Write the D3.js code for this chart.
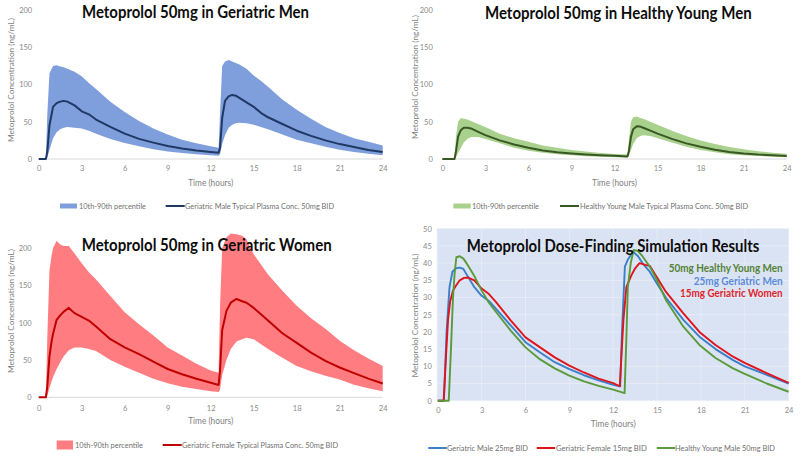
<!DOCTYPE html>
<html><head><meta charset="utf-8">
<script src="https://cdnjs.cloudflare.com/ajax/libs/d3/7.8.5/d3.min.js"></script>
<style>body{margin:0;background:#fff}svg{display:block}</style>
</head><body>
<script>
// ---------- tick labels ----------
const xTicks = [0, 3, 6, 9, 12, 15, 18, 21, 24];
const yTicksConc = [0, 50, 100, 150, 200];
const yTicksSim = [0, 5, 10, 15, 20, 25, 30, 35, 40, 45, 50];

// ---------- Panel 1: Geriatric Men 50mg ----------
const gmTime  = [0,0.5,0.6,0.75,1.0,1.25,1.5,1.75,2.0,2.5,3,3.5,4,5,6,7,8,9,10,11,12,12.55,12.65,12.8,13.0,13.25,13.5,13.75,14,14.5,15,15.5,16,17,18,19,20,21,22,23,24];
const gmMed   = [0,0,10,45,70,75,77,78,77,72,64,60,53,43,34,27,22,17.5,14,11.5,9.5,8.5,15,55,78,84,86,85,82,76,70,62,56,47,38,31,25,20,16,12,9.5];
const gmUpper = [0,0,60,115,125,126,124,123,121,117,111,102,94,77,63,51,41,33,26,21,17,15,60,125,131,133,131,129,127,121,112,105,97,80,66,54,43,35,28,23,18];
const gmLower = [0,0,2,12,28,36,40,42,43,42,41,38,34,27,21.5,17,13,10,8,6.5,5,4.5,6,20,32,42,46,48,48.5,48,46,43,40,33,26,21,16.5,12.5,9.5,7,5];

// ---------- Panel 2: Healthy Young Men 50mg ----------
const hyTime  = [0,0.85,0.95,1.1,1.3,1.5,1.75,2.0,2.5,3,4,5,6,7,8,9,10,11,12,12.9,13.0,13.15,13.3,13.55,13.8,14,14.5,15,16,17,18,19,20,21,22,23,24];
const hyMed   = [0,0,10,30,39,42,42,41,36.5,32,25,19.5,15,11.5,9,7.3,6,5,4.2,3.5,10,30,40,44,43.5,42,38,34,27,21,16.5,12.5,9.5,7.5,6,5,4];
const hyUpper = [0,0,30,50,55,54,53,51,47,43,34,28,23,18,15,12,10,8,6.8,6,25,50,56,57,55,54,50,46,38,31,25,20,16,13,10.5,8.5,7];
const hyLower = [0,0,2,8,15,22,27,29.5,29.5,27,21,15,11,8.5,6.5,5,3.8,3,2.5,2,4,12,20,28,31,32,31,28,22,16.5,12,9,6.5,5,4,3,2.5];

// ---------- Panel 3: Geriatric Women 50mg ----------
const gfTime  = [0,0.5,0.6,0.75,0.9,1.0,1.25,1.5,1.75,2.1,2.5,3,3.5,4,5,6,7,8,9,10,11,12,12.55,12.65,12.8,13.1,13.4,13.8,14.2,14.5,15,16,17,18,19,20,21,22,23,24];
const gfMed   = [0,0,15,55,75,85,104,110,115,120,113,108,103,95,78,67,58,48,38,31,25,19.5,16.5,35,90,116,127,132,129,127,120,103,86,73,60,49,40,32.5,25,18.5];
const gfUpper = [0,0,80,170,190,200,210,205,203,203,193,180,168,158,136,114,98,83,67,56,45,36,33,120,200,215,220,219,217,212,192,165,143,123,106,92,76,63,52,42];
const gfLower = [0,0,2,12,22,27,38,47,55,63,67,67,65,62,50,41,33,25,19,14,11,8,7,10,30,50,65,75,78,80,78,65,53,42,35,29,24,17,12,8];

// ---------- Panel 4: Dose-finding simulation ----------
const gm25Time = [0,0.42,0.6,0.8,1.0,1.25,1.5,1.75,2.0,2.5,3,3.5,4,5,6,7,8,9,10,11,12,12.48,12.6,12.8,13.0,13.35,13.7,14,14.5,15,15.6,16.8,17.9,19,20.2,21,22.5,24];
const gm25Val  = [0,0,20,33,37.5,38.5,38.7,38.3,36.5,33,30.5,29,26.6,21.8,17,14,11.2,9.2,7.4,5.9,4.6,4.2,20,39,41,43.3,42,40,37.5,34,30,23.5,18.6,15,11.8,10,7.5,5];
const gf15Time = [0,0.4,0.55,0.7,0.85,1.04,1.25,1.5,1.8,2.07,2.5,3,3.5,4,5,6,7,8,9,10,11,12,12.45,12.55,12.7,12.9,13.25,13.5,13.8,14.2,14.5,15,15.6,16.8,17.9,19,20.2,21,22.5,24];
const gf15Val  = [0,0,12,23.5,29,32,33.5,35,35.7,35.8,35,32.6,31,28.6,23.3,18.4,15.5,12.6,10.2,8.2,6.4,5.1,4.2,12,23.4,33,36.5,38.5,40,39.5,39.2,35.8,31.7,25.4,20,16.2,12.8,11,8,5.2];
const hy50Time = [0,0.75,0.9,1.04,1.15,1.27,1.5,1.75,1.96,2.25,2.53,3,3.5,4,5,6,7,8,9,10,11,12,12.78,12.9,13.0,13.2,13.4,13.7,14,14.5,15,15.6,16.8,17.9,19,20.2,21,22.5,24];
const hy50Val  = [0,0,15,30,37,41.7,42,41.3,40,38,36,32,28.5,25.7,20.3,15.5,12,9.4,7.3,5.6,4.3,3.2,2.2,18,33,40,43.8,43.5,42,39,35,29.3,21.5,16.2,12.4,9.4,7.8,5,2.6];

// ---------- helpers ----------
const FONT = "Lato, 'Open Sans', sans-serif";
const svg = d3.select("body").append("svg").attr("width", 800).attr("height", 458);

function text(g, str, x, y, o) {
  const t = g.append("text").attr("x", x).attr("y", y).text(str)
    .attr("font-family", FONT).attr("font-size", o.size)
    .attr("font-weight", o.weight || "normal").attr("fill", o.fill || "#7f7f7f")
    .attr("text-anchor", o.anchor || "start");
  if (o.dy) t.attr("dy", o.dy);
  if (o.width) t.attr("textLength", o.width).attr("lengthAdjust", "spacingAndGlyphs");
  return t;
}

function zip(ts, a, b, c) { return ts.map((t, i) => ({t, a: a[i], b: b ? b[i] : null, c: c ? c[i] : null})); }

function axes(g, x, y, yTicks, o) {
  const gx = g.append("g").attr("transform", `translate(0,${y.range()[0]})`)
    .call(d3.axisBottom(x).tickValues(xTicks).tickSize(0).tickPadding(o.xPad));
  gx.select(".domain").remove();
  gx.attr("font-family", FONT).attr("font-size", 7.5).selectAll("text").attr("fill", "#8a8a8a");
  const gy = g.append("g").attr("transform", `translate(${x.range()[0]},0)`)
    .call(d3.axisLeft(y).tickValues(yTicks).tickSize(0).tickPadding(o.yPad));
  gy.select(".domain").remove();
  gy.attr("font-family", FONT).attr("font-size", 7.5).selectAll("text").attr("fill", "#8a8a8a");
}

function titles(g, x, y, o) {
  const cx = (x.range()[0] + x.range()[1]) / 2;
  text(g, "Time (hours)", cx, o.xtY, {size: 8.5, anchor: "middle", width: 45, fill: "#7f7f7f"});
  text(g, "Metoprolol Concentration (ng/mL)", 0, 0, {size: 7.5, anchor: "middle", width: 124, dy: "0.35em", fill: "#7f7f7f"})
    .attr("transform", `translate(${o.ytX},${o.ytY}) rotate(-90)`);
  text(g, o.title, o.titleX, o.titleY, {size: 16.5, weight: "bold", anchor: "middle", width: o.titleW, fill: "#0d0d0d"});
}

function bandPanel(o) {
  const g = svg.append("g");
  const x = d3.scaleLinear().domain([0, 24]).range(o.xr);
  const y = d3.scaleLinear().domain([0, 200]).range(o.yr);
  const data = zip(o.time, o.med, o.upper, o.lower);
  g.append("line").attr("x1", x(0)).attr("x2", x(24)).attr("y1", y(0)).attr("y2", y(0))
    .attr("stroke", "#d9d9d9").attr("stroke-width", 1);
  g.append("path").datum(data)
    .attr("d", d3.area().x(d => x(d.t)).y0(d => y(d.c)).y1(d => y(d.b)))
    .attr("fill", o.bandColor);
  g.append("path").datum(data)
    .attr("d", d3.line().x(d => x(d.t)).y(d => y(d.a)))
    .attr("fill", "none").attr("stroke", o.lineColor).attr("stroke-width", 2).attr("stroke-linejoin", "round");
  axes(g, x, y, yTicksConc, o);
  titles(g, x, y, o);
  // legend
  const L = o.leg;
  g.append("rect").attr("x", L.sx).attr("y", L.y - L.sh / 2).attr("width", L.sw).attr("height", L.sh).attr("fill", o.bandColor);
  text(g, "10th-90th percentile", L.t1x, L.y, {size: 7.5, dy: "0.35em", width: L.t1w, fill: "#6f6f6f"});
  g.append("line").attr("x1", L.lx).attr("x2", L.lx + 19).attr("y1", L.y).attr("y2", L.y)
    .attr("stroke", o.lineColor).attr("stroke-width", 2);
  text(g, o.legLabel, L.t2x, L.y, {size: 7.5, dy: "0.35em", width: L.t2w, fill: "#6f6f6f"});
}

bandPanel({
  xr: [38.7, 382.7], yr: [159, 10], time: gmTime, med: gmMed, upper: gmUpper, lower: gmLower,
  bandColor: "#7f9fdc", lineColor: "#1f3864", xPad: 7, yPad: 6.5,
  xtY: 186, ytX: 11, ytY: 80, title: "Metoprolol 50mg in Geriatric Men", titleX: 195.5, titleY: 18, titleW: 227,
  legLabel: "Geriatric Male Typical Plasma Conc. 50mg BID",
  leg: {y: 206, sx: 60, sw: 17, sh: 5, t1x: 79, t1w: 67, lx: 165.7, t2x: 185, t2w: 149}
});
bandPanel({
  xr: [442.3, 786.7], yr: [159, 10], time: hyTime, med: hyMed, upper: hyUpper, lower: hyLower,
  bandColor: "#a9d18e", lineColor: "#385723", xPad: 7, yPad: 9.5,
  xtY: 185.7, ytX: 415, ytY: 77, title: "Metoprolol 50mg in Healthy Young Men", titleX: 618.3, titleY: 18.5, titleW: 266.7,
  legLabel: "Healthy Young Male Typical Plasma Conc. 50mg BID",
  leg: {y: 206, sx: 453.3, sw: 17.4, sh: 5, t1x: 472, t1w: 67, lx: 560, t2x: 580, t2w: 168}
});
bandPanel({
  xr: [38.7, 382.7], yr: [397.3, 248.3], time: gfTime, med: gfMed, upper: gfUpper, lower: gfLower,
  bandColor: "#ff7c80", lineColor: "#c00000", xPad: 8, yPad: 7,
  xtY: 424.3, ytX: 11, ytY: 311, title: "Metoprolol 50mg in Geriatric Women", titleX: 206.7, titleY: 251.2, titleW: 250,
  legLabel: "Geriatric Female Typical Plasma Conc. 50mg BID",
  leg: {y: 445, sx: 56.7, sw: 16.3, sh: 9, t1x: 75, t1w: 68, lx: 162.7, t2x: 182, t2w: 156}
});

// ---------- Panel 4 ----------
(function () {
  const g = svg.append("g");
  const x = d3.scaleLinear().domain([0, 24]).range([437.8, 788.6]);
  const y = d3.scaleLinear().domain([0, 50]).range([400.7, 228.7]);
  g.append("rect").attr("x", x(0) - 1).attr("y", y(50)).attr("width", x(24) - x(0) + 1).attr("height", y(0) - y(50))
    .attr("fill", "#dae3f3");
  g.selectAll(".hg").data(yTicksSim).join("line")
    .attr("x1", x(0)).attr("x2", x(24)).attr("y1", d => y(d)).attr("y2", d => y(d))
    .attr("stroke", "#e9eef8").attr("stroke-width", 0.8);
  g.selectAll(".vg").data(xTicks).join("line")
    .attr("x1", d => x(d)).attr("x2", d => x(d)).attr("y1", y(0)).attr("y2", y(50))
    .attr("stroke", "#e9eef8").attr("stroke-width", 0.8);
  const series = [
    {time: gm25Time, val: gm25Val, color: "#3a7fc8", label: "Geriatric Male 25mg BID"},
    {time: gf15Time, val: gf15Val, color: "#e0141c", label: "Geriatric Female 15mg BID"},
    {time: hy50Time, val: hy50Val, color: "#5a9a3a", label: "Healthy Young Male 50mg BID"}
  ];
  series.forEach(s => {
    g.append("path").datum(zip(s.time, s.val))
      .attr("d", d3.line().x(d => x(d.t)).y(d => y(d.a)))
      .attr("fill", "none").attr("stroke", s.color).attr("stroke-width", 1.9).attr("stroke-linejoin", "round");
  });
  axes(g, x, y, yTicksSim, {xPad: 7, yPad: 6});
  titles(g, x, y, {xtY: 427, ytX: 415, ytY: 315.5, title: "Metoprolol Dose-Finding Simulation Results", titleX: 613, titleY: 252, titleW: 292.6});
  // annotations
  text(g, "50mg Healthy Young Men", 782.7, 272, {size: 11.5, weight: "bold", anchor: "end", width: 114, fill: "#548235"});
  text(g, "25mg Geriatric Men", 782.7, 284.5, {size: 11.5, weight: "bold", anchor: "end", width: 89, fill: "#5b8bd8"});
  text(g, "15mg Geriatric Women", 782.7, 297, {size: 11.5, weight: "bold", anchor: "end", width: 102.7, fill: "#e0262b"});
  // legend
  const ly = 448;
  const items = [
    {lx: 428.3, tx: 447, tw: 81},
    {lx: 536.7, tx: 556, tw: 90.7},
    {lx: 656.7, tx: 675, tw: 100}
  ];
  items.forEach((it, i) => {
    g.append("line").attr("x1", it.lx).attr("x2", it.lx + 18.5).attr("y1", ly).attr("y2", ly)
      .attr("stroke", series[i].color).attr("stroke-width", 2);
    text(g, series[i].label, it.tx, ly, {size: 7.5, dy: "0.35em", width: it.tw, fill: "#6f6f6f"});
  });
})();
</script>
</body></html>
